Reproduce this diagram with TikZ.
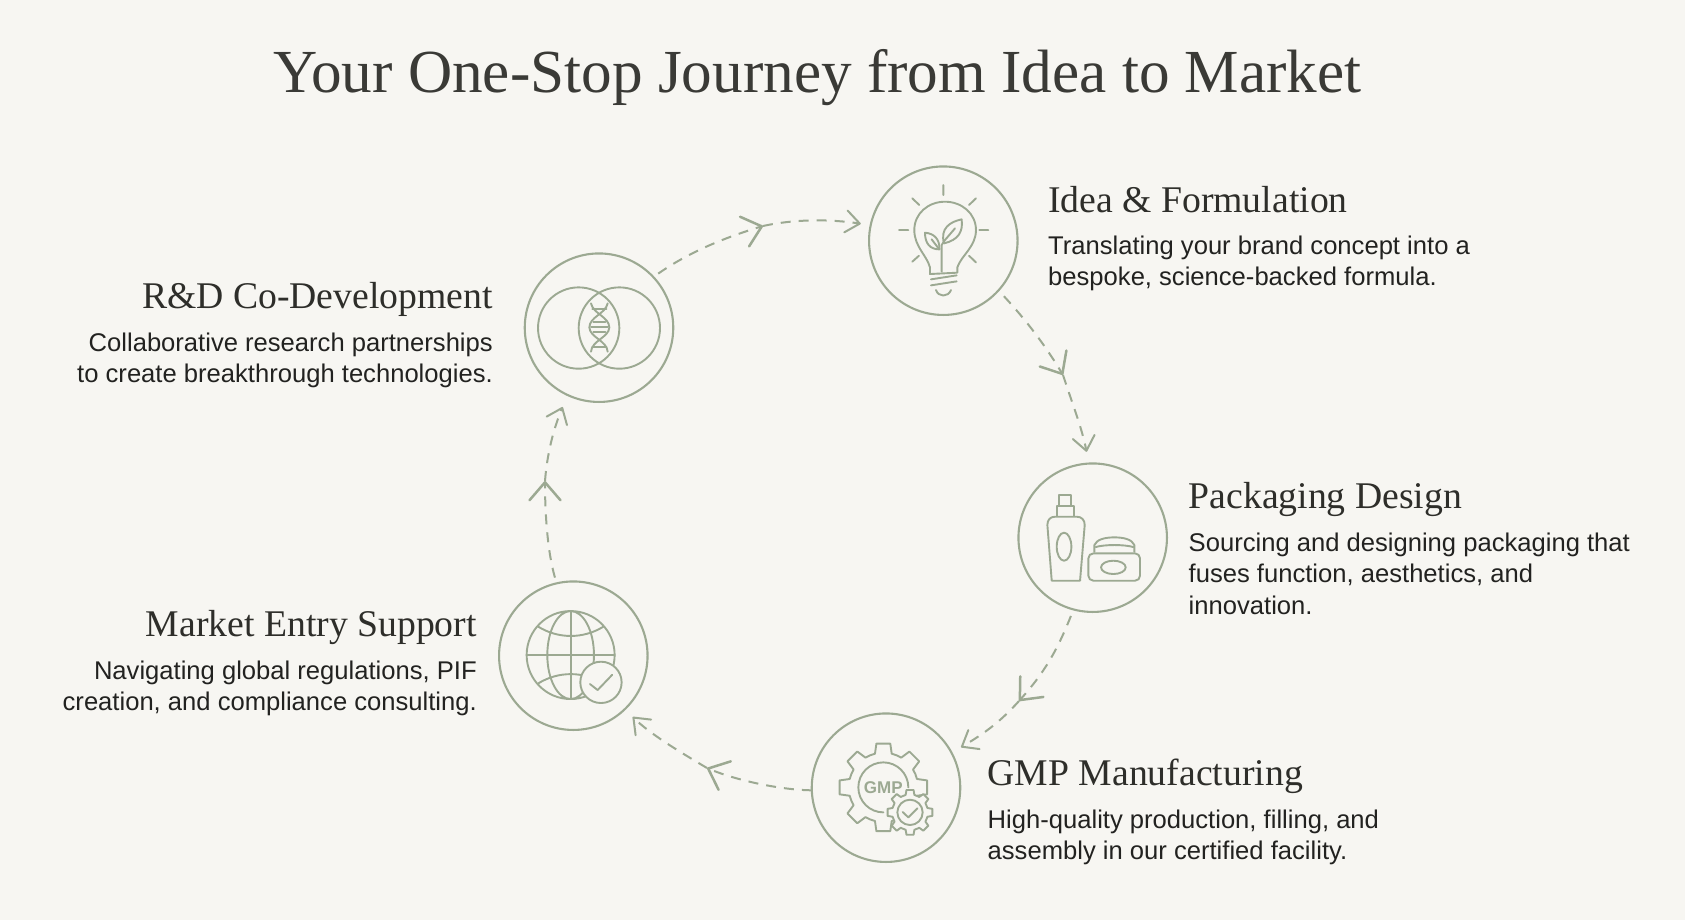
\documentclass[tikz,border=0pt]{standalone}
\usepackage{fontspec}
\setmainfont{Liberation Sans}
\newfontfamily\headfont{Liberation Serif}
\definecolor{pagebg}{RGB}{247,246,242}
\definecolor{sage}{RGB}{156,169,146}
\definecolor{titleink}{RGB}{58,58,54}
\definecolor{headink}{RGB}{46,46,42}
\definecolor{bodyink}{RGB}{34,34,32}
\usetikzlibrary{arrows.meta,calc}
\newcommand{\gearshape}[4]{% centre x, y, root radius, tip radius
  (#1,#2) ++(-14:#3)
  \foreach \a in {0,45,...,315} {
    -- ($(#1,#2)+(\a-14:#3)$) -- ($(#1,#2)+(\a-9:#4)$) -- ($(#1,#2)+(\a+9:#4)$) -- ($(#1,#2)+(\a+14:#3)$)
    arc[start angle=\a+14,end angle=\a+31,radius=#3]
  } -- cycle}
\tikzset{
  stagering/.style={circle,draw=sage,line width=2.1pt,minimum size=148.5pt,inner sep=0pt,outer sep=0pt},
  headr/.style={font=\headfont\fontsize{37.7}{42}\selectfont,text=headink,inner sep=0pt,anchor=base west},
  headl/.style={font=\headfont\fontsize{37.7}{42}\selectfont,text=headink,inner sep=0pt,anchor=base east},
  bodyr/.style={font=\fontsize{25.6}{31.7}\selectfont,text=bodyink,inner sep=0pt,anchor=north west,align=left},
  bodyl/.style={font=\fontsize{25.6}{31.7}\selectfont,text=bodyink,inner sep=0pt,anchor=north east,align=right},
  flowline/.style={draw=sage,line width=2pt,dash pattern=on 10pt off 8pt},
  midtip/.style={-{Straight Barb[length=18pt,width=31pt,round,line width=2.5pt]}},
  endtip/.style={-{Straight Barb[length=14pt,width=22pt,round]}},
  iconline/.style={draw=sage,line width=1.9pt,line join=round,line cap=round},
  zoomed/.style={x=0.3333pt,y=-0.3333pt},
}
\begin{document}
\begin{tikzpicture}[x=1pt,y=-1pt]
  \path[use as bounding box,fill=pagebg] (0,0) rectangle (1685,920);
  \node[font=\headfont\fontsize{61.2}{70}\selectfont,text=titleink,inner sep=0pt,anchor=base] (title) at (817.5,93) {Your One-Stop Journey from Idea to Market};

  \foreach \id/\cx/\cy in {idea/943.3/240.7,rnd/599/327.7,pack/1092.7/537.7,gmp/886/787.7,market/573.3/655.7}{
    \node[stagering] (\id) at (\cx,\cy) {};
  }

  \foreach \id/\side/\tx/\ty/\tb/\head/\desc in {%
    idea/r/1048/212/235.5/{Idea \& Formulation}/{Translating your brand concept into a\\bespoke, science-backed formula.},%
    rnd/l/493/308/332.5/{R\&D Co-Development}/{Collaborative research partnerships\\to create breakthrough technologies.},%
    pack/r/1188.5/508/532.5/{Packaging Design}/{Sourcing and designing packaging that\\fuses function, aesthetics, and\\innovation.},%
    gmp/r/987.5/785/809.5/{GMP Manufacturing}/{High-quality production, filling, and\\assembly in our certified facility.},%
    market/l/477/636/660.5/{Market Entry Support}/{Navigating global regulations, PIF\\creation, and compliance consulting.}%
  }{
    \node[head\side] (\id-head) at (\tx,\ty) {\head};
    \node[body\side] (\id-text) at (\tx,\tb) {\desc};
  }

  % connectors, each one broken at a bigger chevron
  \foreach \m/\mx/\my in {m1/763/226,m2/1063/375,m3/1019/701,m4/707/768,m5/545/481}{
    \coordinate (\m) at (\mx,\my);
  }
  \draw[flowline,midtip,shorten <=6pt] (rnd.43) .. controls (692,250) and (730,236) .. (m1);
  \draw[flowline,endtip,shorten >=10pt] (m1) .. controls (795,219) and (830,219) .. (idea.168);
  \draw[flowline,midtip,shorten <=8pt] (idea.-42) .. controls (1026,320) and (1045,345) .. (m2);
  \draw[flowline,endtip,shorten >=12pt] (m2) .. controls (1071,400) and (1082,428) .. (pack.93);
  \draw[flowline,midtip,shorten <=7pt] (pack.-105) .. controls (1057,651) and (1044,673) .. (m3);
  \draw[flowline,endtip,shorten >=11pt] (m3) .. controls (1000,722) and (985,733) .. (gmp.28.7);
  \draw[flowline,midtip] (gmp.182) .. controls (780,790) and (735,780) .. (m4);
  \draw[flowline,endtip,shorten >=11pt] (m4) .. controls (680,752) and (650,734) .. (market.-46.7);
  \draw[flowline,midtip,shorten <=6pt] (market.103.5) .. controls (547,550) and (545,510) .. (m5);
  \draw[flowline,endtip,shorten >=13pt] (m5) .. controls (547,455) and (553,430) .. (rnd.-115);

  % bulb
  \begin{scope}[iconline,shift={(idea.center)},zoomed,shift={(-280,-272)}]
    \draw (280,105) -- (280,135) (187,145) -- (208,165) (378,145) -- (357,165)
      (147,240) -- (175,240) (388,240) -- (415,240) (187,335) -- (207,317) (357,317) -- (378,337);
    \draw (240,372) -- (240,352) .. controls (230,315) and (193,290) .. (193,240)
      .. controls (193,190) and (235,155) .. (285,155) .. controls (335,155) and (378,190) .. (378,240)
      .. controls (378,290) and (335,315) .. (322,352) -- (322,368) -- cycle;
    \draw (243,388) -- (320,376) (243,406) -- (320,394);
    \draw (258,420) .. controls (265,442) and (295,442) .. (303,420);
    \draw (275,365) -- (275,285) (275,285) -- (285,270) -- (315,235) (268,298) -- (245,268);
    \draw (282,280) .. controls (270,235) and (300,215) .. (335,208) .. controls (340,245) and (325,270) .. (282,280);
    \draw (268,298) .. controls (270,265) and (250,250) .. (225,248) .. controls (225,280) and (240,298) .. (268,298);
  \end{scope}

  % overlapping rings and helix
  \begin{scope}[iconline,shift={(rnd.center)},zoomed,shift={(-267,-263)}]
    \draw (206,264) circle[radius=122] (328,264) circle[radius=122];
    \draw (243,190) .. controls (250,222) and (297,230) .. (298,262) .. controls (297,292) and (245,302) .. (243,335);
    \draw (293,190) .. controls (286,222) and (239,230) .. (238,262) .. controls (239,292) and (291,302) .. (293,335);
    \draw (247,207) -- (289,207) (250,247) -- (286,247) (243,262) -- (293,262) (250,277) -- (286,277) (247,320) -- (289,320);
  \end{scope}

  % bottle and jar
  \begin{scope}[iconline,shift={(pack.center)},zoomed,shift={(-263,-263)}]
    \draw (163,168) -- (163,135) -- (198,135) -- (198,168);
    \draw (155,198) -- (155,168) -- (208,168) -- (208,198);
    \draw (140,392) -- (127,225) .. controls (127,210) and (135,200) .. (150,200) -- (215,200)
      .. controls (230,200) and (239,210) .. (239,225) -- (225,392) -- cycle;
    \draw (177,290) ellipse[x radius=22,y radius=42];
    \draw (268,305) -- (268,285) .. controls (275,268) and (300,262) .. (328,262) .. controls (356,262) and (381,268) .. (388,285) -- (388,305);
    \draw (272,291) .. controls (300,283) and (356,283) .. (385,291);
    \draw[rounded corners=5pt] (250,310) rectangle (405,392);
    \draw (325,352) ellipse[x radius=37,y radius=20];
  \end{scope}

  % gears
  \begin{scope}[iconline,shift={(gmp.center)},zoomed,shift={(-258,-263)}]
    \draw \gearshape{250}{262}{104}{133};
    \draw (325,262) arc[start angle=0,end angle=-270,radius=75];
    \node[font=\bfseries\fontsize{17}{17}\selectfont,text=sage,inner sep=0pt] (gmp-mark) at (250,262) {GMP};
    \filldraw[fill=pagebg] \gearshape{330}{337}{54}{68};
    \draw (330,337) circle[radius=38];
    \draw (308,336) -- (325,352) -- (352,325);
  \end{scope}

  % globe and badge
  \begin{scope}[iconline,shift={(market.center)},zoomed,shift={(-265,-255)}]
    \draw (257,253) circle[radius=132] (257,253) ellipse[x radius=70,y radius=132];
    \draw (257,121) -- (257,385) (125,253) -- (389,253);
    \draw (160,168) .. controls (220,205) and (295,205) .. (355,168);
    \draw (160,338) .. controls (220,301) and (295,301) .. (355,338);
    \filldraw[fill=pagebg] (348,335) circle[radius=62];
    \draw (315,340) -- (338,358) -- (382,312);
  \end{scope}
\end{tikzpicture}
\end{document}
